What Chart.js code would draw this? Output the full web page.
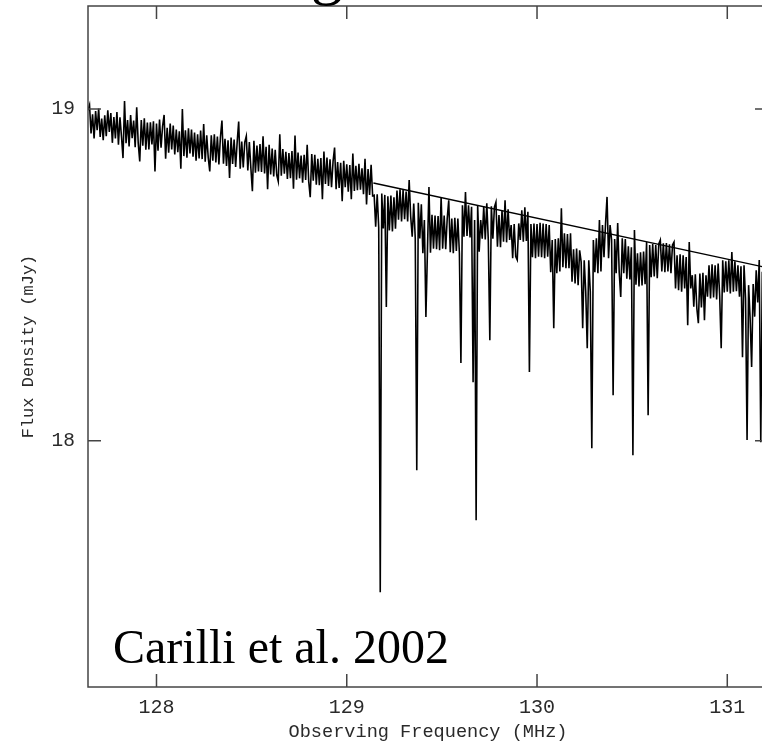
<!DOCTYPE html>
<html>
<head>
<meta charset="utf-8">
<title>Flux Density spectrum</title>
<script src="https://cdn.jsdelivr.net/npm/chart.js@4.4.1/dist/chart.umd.min.js"></script>
<style>
  html, body { margin: 0; padding: 0; background: #fff; overflow: hidden; }
  #wrap { position: absolute; left: 0; top: 0; width: 780px; height: 744px; }
</style>
</head>
<body>
<div id="wrap"><canvas id="spectrumChart" width="780" height="744"></canvas></div>
<script>
// spectral channels (MHz)
var chanStart = 127.64;
var chanWidth = 0.008;

// flux density per channel (mJy)
var flux = [
  18.996, 19.012, 18.926, 18.984, 18.911, 18.994, 18.936, 19.001, 18.916, 18.971,
  18.906, 18.981, 18.918, 18.996, 18.931, 18.988, 18.898, 18.976, 18.911, 18.991,
  18.892, 18.975, 18.917, 18.852, 19.024, 18.897, 18.967, 18.887, 18.982, 18.912,
  18.965, 18.885, 19.005, 18.897, 18.842, 18.967, 18.889, 18.972, 18.877, 18.959,
  18.878, 18.960, 18.893, 18.963, 18.812, 18.956, 18.874, 18.968, 18.883, 18.948,
  18.982, 18.850, 18.943, 18.868, 18.956, 18.878, 18.950, 18.863, 18.938, 18.870,
  18.933, 18.820, 19.000, 18.858, 18.936, 18.853, 18.942, 18.866, 18.938, 18.856,
  18.929, 18.844, 18.924, 18.851, 18.935, 18.849, 18.955, 18.841, 18.921, 18.853,
  18.812, 18.921, 18.844, 18.924, 18.839, 18.917, 18.833, 18.915, 18.965, 18.835,
  18.910, 18.828, 18.906, 18.792, 18.914, 18.834, 18.908, 18.825, 18.900, 18.962,
  18.820, 18.902, 18.824, 18.900, 18.918, 18.815, 18.900, 18.822, 18.752, 18.904,
  18.808, 18.890, 18.812, 18.894, 18.810, 18.918, 18.806, 18.886, 18.758, 18.892,
  18.803, 18.881, 18.797, 18.877, 18.801, 18.782, 18.924, 18.799, 18.879, 18.805,
  18.871, 18.789, 18.867, 18.791, 18.873, 18.760, 18.920, 18.787, 18.869, 18.791,
  18.860, 18.778, 18.862, 18.786, 18.892, 18.782, 18.734, 18.864, 18.784, 18.862,
  18.772, 18.850, 18.770, 18.852, 18.728, 18.872, 18.774, 18.854, 18.768, 18.848,
  18.764, 18.842, 18.884, 18.758, 18.840, 18.762, 18.838, 18.722, 18.844, 18.764,
  18.833, 18.751, 18.831, 18.728, 18.866, 18.753, 18.829, 18.755, 18.835, 18.757,
  18.821, 18.743, 18.850, 18.712, 18.819, 18.741, 18.832, 18.738,
  18.740, 18.645, 18.743, 18.643, 17.543, 18.745, 18.640, 18.741, 18.403, 18.737,
  18.634, 18.739, 18.631, 18.734, 18.639, 18.754, 18.666, 18.758, 18.661, 18.756,
  18.668, 18.751, 18.661, 18.786, 18.676, 18.615, 18.715, 18.610, 17.911, 18.717,
  18.610, 18.713, 18.565, 18.665, 18.373, 18.570, 18.765, 18.567, 18.681, 18.579,
  18.679, 18.577, 18.677, 18.574, 18.735, 18.579, 18.679, 18.577, 18.670, 18.725,
  18.568, 18.670, 18.565, 18.672, 18.572, 18.670, 18.565, 18.234, 18.710, 18.615,
  18.750, 18.617, 18.710, 18.613, 18.705, 18.176, 18.665, 17.760, 18.710, 18.570,
  18.665, 18.609, 18.707, 18.607, 18.716, 18.604, 18.303, 18.707, 18.609, 18.704,
  18.719, 18.585, 18.680, 18.583, 18.695, 18.600, 18.725, 18.598, 18.698, 18.605,
  18.650, 18.550, 18.653, 18.555, 18.545, 18.655, 18.605, 18.695, 18.600, 18.704,
  18.602, 18.690, 18.207, 18.653, 18.553, 18.655, 18.550, 18.653, 18.555, 18.657,
  18.553, 18.655, 18.550, 18.653, 18.555, 18.650, 18.508, 18.605, 18.339, 18.608,
  18.505, 18.610, 18.510, 18.701, 18.523, 18.625, 18.520, 18.623, 18.520, 18.625,
  18.479, 18.577, 18.474, 18.579, 18.469, 18.574, 18.539, 18.339, 18.544, 18.449,
  18.279, 18.544, 18.449, 17.977, 18.605, 18.508, 18.610, 18.505, 18.665, 18.510,
  18.650, 18.553, 18.653, 18.735, 18.550, 18.650, 18.605, 18.137, 18.608, 18.505,
  18.656, 18.508, 18.433, 18.610, 18.505, 18.608, 18.488, 18.586, 18.486, 18.583,
  17.956, 18.635, 18.470, 18.565, 18.465, 18.568, 18.468, 18.570, 18.472, 18.599,
  18.077, 18.590, 18.493, 18.593, 18.495, 18.590, 18.490, 18.593, 18.605, 18.510,
  18.595, 18.508, 18.596, 18.510, 18.592, 18.505, 18.590, 18.599, 18.459, 18.559,
  18.454, 18.562, 18.449, 18.559, 18.459, 18.554, 18.348, 18.599, 18.459, 18.499,
  18.404, 18.502, 18.399, 18.354, 18.504, 18.402, 18.506, 18.363, 18.499, 18.434,
  18.529, 18.429, 18.532, 18.432, 18.529, 18.426, 18.534, 18.436, 18.279, 18.544,
  18.447, 18.541, 18.449, 18.544, 18.444, 18.569, 18.449, 18.541, 18.451, 18.529,
  18.434, 18.526, 18.252, 18.529, 18.429, 18.002, 18.469, 18.369, 18.222, 18.472,
  18.374, 18.514, 18.417, 18.545, 17.995, 18.509, 18.419, 18.511, 18.424
];

// continuum fit
var fitFreq = [129.14, 131.214];
var fitFlux = [18.777, 18.521];

// tick labels
var xTicks = [128, 129, 130, 131];
var yTicks = [18, 19];

var spectrum = flux.map((v, i) => ({ x: chanStart + i * chanWidth, y: v }));
var fit = fitFreq.map((f, i) => ({ x: f, y: fitFlux[i] }));

var monoFont = "'Liberation Mono', 'DejaVu Sans Mono', monospace";
var inkGray = '#2a2a2a';

// box round the plot with inward ticks on all four sides
var framePlugin = {
    id: 'frame',
    afterDraw(chart) {
        var c = chart.ctx, a = chart.chartArea;
        var x = chart.scales.x, y = chart.scales.y;
        c.save();
        c.strokeStyle = '#444';
        c.lineWidth = 1.5;
        c.strokeRect(a.left, a.top, a.right - a.left, a.bottom - a.top);
        c.beginPath();
        xTicks.forEach((v) => {
            var px = x.getPixelForValue(v);
            c.moveTo(px, a.top); c.lineTo(px, a.top + 13);
            c.moveTo(px, a.bottom); c.lineTo(px, a.bottom - 13);
        });
        yTicks.forEach((v) => {
            var py = y.getPixelForValue(v);
            c.moveTo(a.left, py); c.lineTo(a.left + 13, py);
            c.moveTo(a.right, py); c.lineTo(a.right - 13, py);
        });
        c.stroke();
        c.restore();
    }
};

// reference note in the lower left, and the tail of the heading above
var notePlugin = {
    id: 'note',
    afterDraw(chart) {
        var c = chart.ctx;
        c.save();
        c.fillStyle = '#000';
        c.textBaseline = 'alphabetic';
        c.font = "48px 'Liberation Serif', 'Times New Roman', serif";
        c.fillText('Carilli et al. 2002', 113, 663);
        c.font = "64px 'Liberation Serif', 'Times New Roman', serif";
        c.fillText('g', 311, -8);
        c.restore();
    }
};

var ctx = document.getElementById('spectrumChart').getContext('2d');

new Chart(ctx, {
    type: 'line',
    data: {
        datasets: [{
            data: spectrum,
            borderColor: '#000',
            borderWidth: 1.6,
            pointRadius: 0,
            tension: 0
        }, {
            data: fit,
            borderColor: '#000',
            borderWidth: 1.4,
            pointRadius: 0
        }]
    },
    options: {
        responsive: false,
        animation: false,
        devicePixelRatio: 1,
        layout: { padding: { left: 0, top: 6, right: 12, bottom: 0 } },
        plugins: {
            legend: { display: false },
            tooltip: { enabled: false }
        },
        scales: {
            x: {
                type: 'linear',
                min: 127.64,
                max: 131.214,
                grid: { display: false, drawTicks: false },
                border: { display: false },
                afterBuildTicks: (s) => { s.ticks = xTicks.map((v) => ({ value: v })); },
                afterFit: (s) => { s.height = 57; s.paddingLeft = 0; s.paddingRight = 0; },
                ticks: { font: { family: monoFont, size: 20 }, color: inkGray, padding: 9, maxRotation: 0, autoSkip: false },
                title: {
                    display: true,
                    text: 'Observing Frequency (MHz)',
                    font: { family: monoFont, size: 18.6 },
                    color: inkGray,
                    padding: { top: 0, bottom: 1 }
                }
            },
            y: {
                min: 17.2575,
                max: 19.3105,
                grid: { display: false, drawTicks: false },
                border: { display: false },
                afterBuildTicks: (s) => { s.ticks = yTicks.map((v) => ({ value: v })); },
                afterFit: (s) => { s.width = 88; s.paddingTop = 0; s.paddingBottom = 0; },
                ticks: { font: { family: monoFont, size: 19.5 }, color: inkGray, padding: 13 },
                title: {
                    display: true,
                    text: 'Flux Density (mJy)',
                    font: { family: monoFont, size: 17 },
                    color: inkGray,
                    padding: { top: 18, bottom: 0 }
                }
            }
        }
    },
    plugins: [framePlugin, notePlugin]
});
</script>
</body>
</html>
